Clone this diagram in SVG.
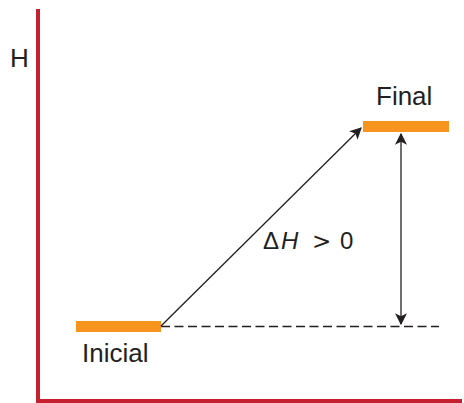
<svg xmlns="http://www.w3.org/2000/svg" width="464" height="403" viewBox="0 0 464 403">
<defs>
<style>
.t{font-family:"Liberation Sans",Arial,sans-serif;font-size:26px;fill:#231f20}
.m{font-family:"Liberation Sans",Arial,sans-serif;font-size:24px;fill:#231f20}
.axis{stroke:#c4202f;stroke-width:4;fill:none}
.bar{fill:#f7941d}
.ln{stroke:#231f20;stroke-width:1.3;fill:none}
</style>
<marker id="ah" viewBox="0 0 10 10" refX="9" refY="5" markerWidth="12" markerHeight="12" markerUnits="userSpaceOnUse" orient="auto-start-reverse">
<path d="M0,0 L10,5 L0,10 L2.5,5 Z" fill="#231f20"/>
</marker>
</defs>
<g id="axes">
<line class="axis" x1="38" y1="9" x2="38" y2="401"/>
<line class="axis" x1="36" y1="401" x2="462" y2="401"/>
<text class="t" x="10" y="67">H</text>
</g>
<g id="inicial">
<rect class="bar" x="76" y="321" width="85" height="11"/>
<text class="t" x="82" y="362">Inicial</text>
</g>
<g id="final">
<rect class="bar" x="363" y="121" width="86" height="11"/>
<text class="t" x="376" y="105">Final</text>
</g>
<g id="connectors">
<line class="ln" x1="161" y1="326.5" x2="439" y2="326.5" stroke-dasharray="9,4.5"/>
<line class="ln" x1="161" y1="326" x2="361" y2="128" marker-end="url(#ah)"/>
<line class="ln" x1="401" y1="134" x2="401" y2="324" marker-start="url(#ah)" marker-end="url(#ah)"/>
</g>
<g id="label">
<text class="m" y="249"><tspan x="263">Δ</tspan><tspan x="281" font-style="italic">H</tspan><tspan x="312" font-family="DejaVu Sans" font-size="23">&gt;</tspan><tspan x="340">0</tspan></text>
</g>
</svg>
